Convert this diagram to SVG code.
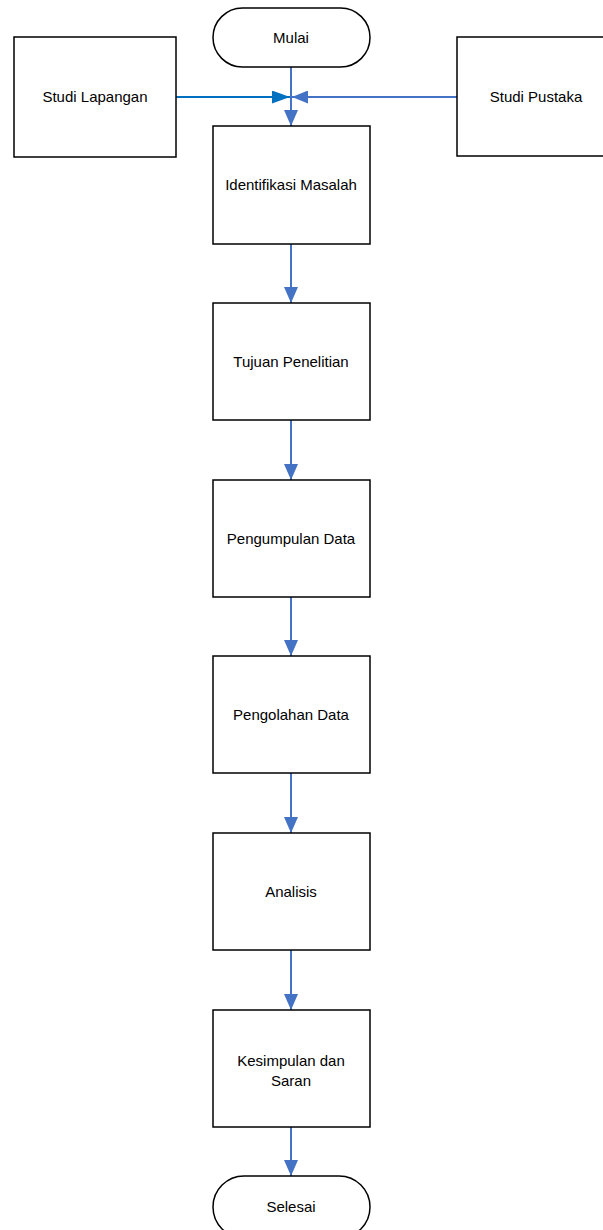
<svg xmlns="http://www.w3.org/2000/svg" width="603" height="1230" viewBox="0 0 603 1230">
<style>
.box{fill:#fff;stroke:#000;stroke-width:1.5}
.t{font-family:"Liberation Sans",Arial,sans-serif;font-size:15px;fill:#000;text-anchor:middle}
.c{stroke:#4472C4;stroke-width:2;fill:none}
.c2{stroke:#0070C0;stroke-width:2;fill:none}
</style>
<defs>
<marker id="a" markerUnits="userSpaceOnUse" markerWidth="16" markerHeight="14" refX="16" refY="7" orient="auto"><path d="M0,0 L16,7 L0,14 Z" fill="#4472C4"/></marker>
<marker id="a2" markerUnits="userSpaceOnUse" markerWidth="18" markerHeight="13" refX="18" refY="6.5" orient="auto"><path d="M0,0 L18,6.5 L0,13 Z" fill="#0070C0"/></marker>
<marker id="a3" markerUnits="userSpaceOnUse" markerWidth="16" markerHeight="13" refX="16" refY="6.5" orient="auto"><path d="M0,0 L16,6.5 L0,13 Z" fill="#4472C4"/></marker>
</defs>
<g id="connectors">
<line class="c2" x1="176" y1="97" x2="290" y2="97" marker-end="url(#a2)"/>
<line class="c" x1="457" y1="97" x2="292" y2="97" marker-end="url(#a3)"/>
<line class="c" x1="291" y1="67" x2="291" y2="126" marker-end="url(#a)"/>
<line class="c" x1="291" y1="244" x2="291" y2="303" marker-end="url(#a)"/>
<line class="c" x1="291" y1="420" x2="291" y2="480" marker-end="url(#a)"/>
<line class="c" x1="291" y1="597" x2="291" y2="656" marker-end="url(#a)"/>
<line class="c" x1="291" y1="773" x2="291" y2="833" marker-end="url(#a)"/>
<line class="c" x1="291" y1="950" x2="291" y2="1010" marker-end="url(#a)"/>
<line class="c" x1="291" y1="1127" x2="291" y2="1176" marker-end="url(#a)"/>
</g>
<g id="mulai"><rect class="box" x="213" y="8" width="157" height="59" rx="29.5"/><text class="t" x="291" y="43">Mulai</text></g>
<g id="studi-lapangan"><rect class="box" x="14" y="37" width="162" height="120"/><text class="t" x="95" y="102">Studi Lapangan</text></g>
<g id="studi-pustaka"><rect class="box" x="457" y="37" width="160" height="119"/><text class="t" x="536" y="102">Studi Pustaka</text></g>
<g id="identifikasi"><rect class="box" x="213" y="126" width="157" height="118"/><text class="t" x="291" y="190">Identifikasi Masalah</text></g>
<g id="tujuan"><rect class="box" x="213" y="303" width="157" height="117"/><text class="t" x="291" y="367">Tujuan Penelitian</text></g>
<g id="pengumpulan"><rect class="box" x="213" y="480" width="157" height="117"/><text class="t" x="291" y="544">Pengumpulan Data</text></g>
<g id="pengolahan"><rect class="box" x="213" y="656" width="157" height="117"/><text class="t" x="291" y="720">Pengolahan Data</text></g>
<g id="analisis"><rect class="box" x="213" y="833" width="157" height="117"/><text class="t" x="291" y="897">Analisis</text></g>
<g id="kesimpulan"><rect class="box" x="213" y="1010" width="157" height="117"/><text class="t" x="291" y="1066">Kesimpulan dan</text><text class="t" x="291" y="1086">Saran</text></g>
<g id="selesai"><rect class="box" x="213" y="1176" width="157" height="62" rx="31"/><text class="t" x="291" y="1212">Selesai</text></g>
</svg>
